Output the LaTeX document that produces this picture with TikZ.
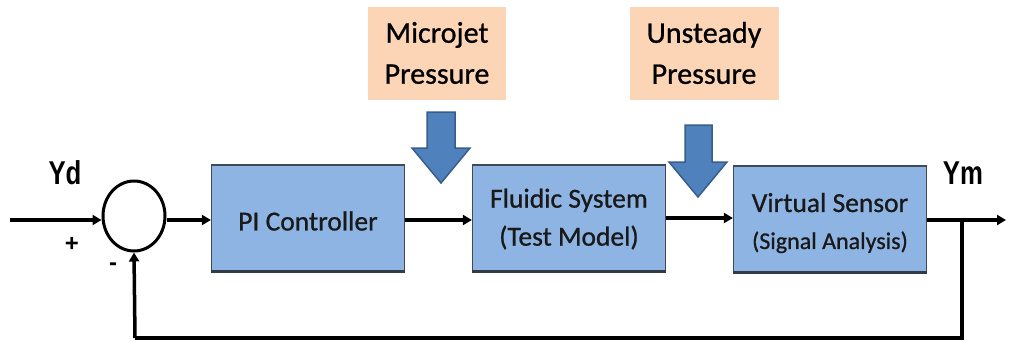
\documentclass[tikz,border=0pt]{standalone}
\usepackage{fontspec}
\setmainfont{Carlito}[RawFeature={embolden=0.8}]
\newfontfamily\labfont{Liberation Sans}
\usetikzlibrary{arrows.meta,shapes.geometric}
\definecolor{boxblue}{HTML}{8EB4E3}
\definecolor{boxedge}{HTML}{3F4A57}
\definecolor{peach}{HTML}{FBD5B5}
\definecolor{arrblue}{HTML}{4F81BD}
\definecolor{arredge}{HTML}{385D8A}
\tikzset{
  blk/.style={draw=boxedge, line width=1.2pt, fill=boxblue, minimum width=193pt, minimum height=106pt, inner sep=0pt},
  blktext/.style={align=center, inner sep=0pt, text=black!90, font=\fontsize{27.5}{38}\selectfont},
  shadowedge/.style={draw=boxedge!80!black, line width=2.5pt},
  inbox/.style={fill=peach, minimum width=138pt, minimum height=93pt, inner sep=0pt, align=center, font=\fontsize{30}{41}\selectfont},
  sig/.style={line width=3.5pt, -{Triangle[length=9pt,width=10pt]}},
  wire/.style={line width=3.5pt},
  lab/.style={font=\labfont\bfseries\fontsize{33}{33}\selectfont, inner sep=0pt},
  blockarrow/.style={fill=arrblue, draw=arredge, line width=1.5pt, line join=miter}
}
\begin{document}
\begin{tikzpicture}[x=1pt,y=-1pt]
\useasboundingbox (0,0) rectangle (1010,341);
% summing junction
\node[draw, line width=3pt, ellipse, minimum width=62pt, minimum height=70pt, inner sep=0pt] (sum) at (134,216) {};
% blocks
\node[blk] (pi) at (308,218) {};
\node[blk] (fs) at (569,218) {};
\node[blk] (vs) at (830,219) {};
\foreach \b in {pi,fs,vs}{\draw[shadowedge] (\b.south west) -- (\b.south east);}
\node[blktext] (pit) at (308,221) {PI Controller};
\node[blktext] (fst) at (569,219) {Fluidic System\\(Test Model)};
\node[blktext, font=\fontsize{27.5}{37}\selectfont] (vst) at (830,223) {Virtual Sensor\\{\fontsize{24}{30}\selectfont (Signal Analysis)}};
% disturbance boxes
\node[inbox] (mj) at (437,53) {Microjet\\Pressure};
\node[inbox, minimum width=149pt] (up) at (704,53) {Unsteady\\Pressure};
% labels
\node[lab] (yd) at (65,173) {\scalebox{0.78}[1]{Yd}};
\node[lab] (ym) at (963,173) {\scalebox{0.78}[1]{Ym}};
\node[font=\labfont\bfseries\fontsize{24}{24}\selectfont, inner sep=0pt] (plus) at (72,244) {+};
\node[font=\labfont\bfseries\fontsize{24}{24}\selectfont, inner sep=0pt] (minus) at (113,267) {-};
% coordinates
\coordinate (in) at (10,220);
\coordinate (out) at (1006,220);
\coordinate (fb) at (962,220);
\coordinate (fbr) at (962,338);
\coordinate (fbl) at (135,338);
% signals
\draw[sig] (in) -- (sum.west |- in);
\draw[sig] (sum.east |- 0,220) -- (pi.west |- 0,220);
\draw[sig] (pi.east |- 0,220) -- (fs.west |- 0,220);
\draw[sig] (fs.east |- 0,218) -- (vs.west |- 0,218);
\draw[sig] (vs.east |- 0,220) -- (out);
\draw[wire] (fb) -- (fbr) -- (fbl);
\draw[sig] (fbl) -- (sum.south);
% block arrows
\draw[blockarrow] (427,112) -- (455,112) -- (455,148) -- (470,148) -- (441,183) -- (412,148) -- (427,148) -- cycle;
\draw[blockarrow] (685,125) -- (712,125) -- (712,162) -- (727,162) -- (698,197) -- (669,162) -- (685,162) -- cycle;
\end{tikzpicture}
\end{document}
